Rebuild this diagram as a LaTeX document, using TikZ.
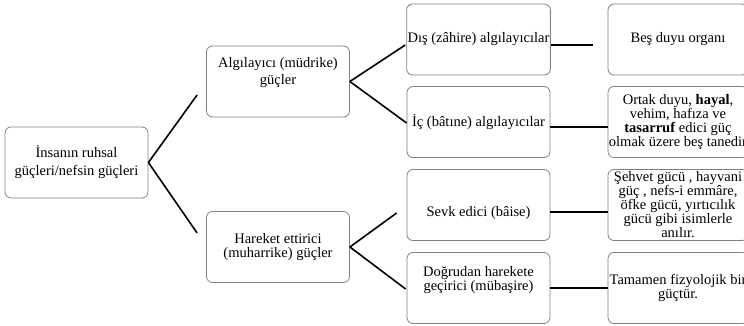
\documentclass[tikz,border=0pt]{standalone}
\usepackage{fontspec}
\setmainfont{Liberation Serif}
\usetikzlibrary{positioning}

\begin{document}
\begin{tikzpicture}[x=1pt, y=-1pt,
    box/.style={draw=black!50, line width=0.8pt, rounded corners=6pt,
        minimum width=143pt, minimum height=71pt, align=center, inner sep=1pt,
        font=\fontsize{14.5}{14}\selectfont},
    farbox/.style={box, minimum width=140pt},
    link/.style={line width=1.6pt}]
                        \useasboundingbox (0,0) rectangle (744,326);

                        \node[box, font=\fontsize{14.5}{18}\selectfont] (root) at (76.5, 162.5) {İnsanın ruhsal\\güçleri/nefsin güçleri};
                        \node[box, font=\fontsize{14.5}{16.5}\selectfont] (alg) at (278, 81.5) {Algılayıcı (müdrike)\\güçler\\\strut};
                        \node[box] (har) at (278, 247) {Hareket ettirici\\(muharrike) güçler};
                        \node[box] (dis) at (478.5, 39.5) {Dış (zâhire) algılayıcılar};
                        \node[box] (ic) at (478.5, 122) {İç (bâtıne) algılayıcılar};
                        \node[box] (sevk) at (478.5, 205) {\strut\\Sevk edici (bâise)};
                        \node[box] (dog) at (478.5, 288) {Doğrudan harekete\\geçirici (mübaşire)\\\strut};
                        \node[farbox] (bes) at (678, 39.5) {Beş duyu organı};
                        \node[farbox] (ortak) at (678, 122) {Ortak duyu, \textbf{hayal},\\vehim, hafıza ve\\\textbf{tasarruf} edici güç\\\makebox[0pt]{olmak üzere beş tanedir}};
                        \node[farbox] (sehvet) at (678, 205) {Şehvet gücü , hayvani\\güç , nefs-i emmâre,\\öfke gücü, yırtıcılık\\gücü gibi isimlerle\\anılır.};
                        \node[farbox] (tam) at (678, 288) {\makebox[0pt]{Tamamen fizyolojik bir}\\güçtür.};

                        \draw[link]
                        (root.east) edge ([shift={(-9,13.5)}]alg.west)
                        (root.east) edge ([shift={(-9,-14)}]har.west)
                        (alg.east) edge ([shift={(-1,5.5)}]dis.west)
                        (alg.east) edge ([shift={(0,1)}]ic.west)
                        (har.east) edge ([shift={(-10,8)}]sevk.west)
                        (har.east) edge ([shift={(-1,1)}]dog.west)
                        ([shift={(0,5.5)}]dis.east) edge ([shift={(-15,5.5)}]bes.west)
                        ([shift={(0,5)}]ic.east) edge ([shift={(0,5)}]ortak.west)
                        ([shift={(0,7)}]sevk.east) edge ([shift={(0,7)}]sehvet.west)
                        (dog.east) edge (tam.west);
                    \end{tikzpicture}
\end{document}
